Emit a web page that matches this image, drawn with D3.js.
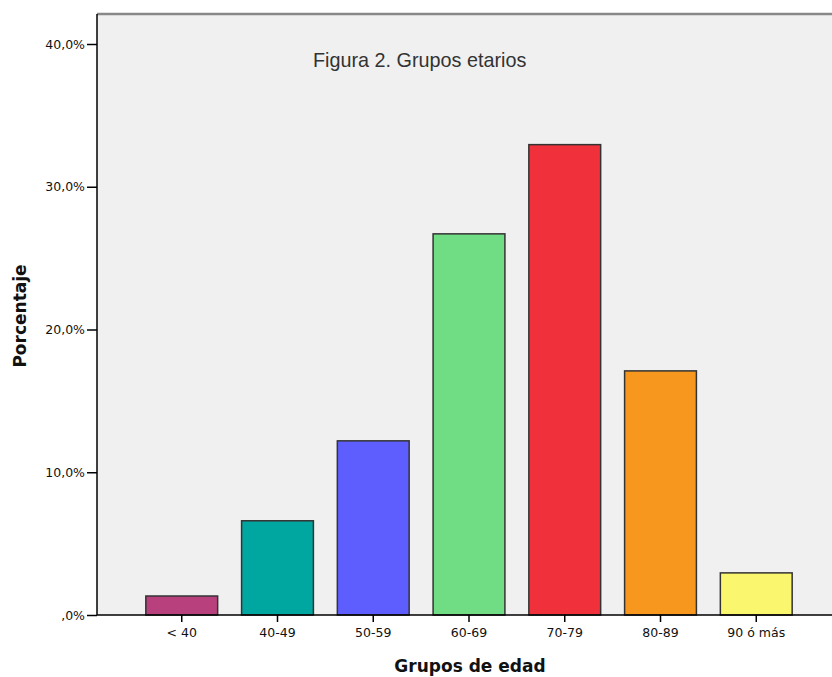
<!DOCTYPE html>
<html><head><meta charset="utf-8">
<script src="https://cdn.jsdelivr.net/npm/d3@7"></script>
<style>body{margin:0;background:#fff;}svg{display:block;}</style>
</head><body>
<svg id="c" width="832" height="677"></svg>
<script>
const categories = ["< 40", "40-49", "50-59", "60-69", "70-79", "80-89", "90 ó más"];
const values = [1.33, 6.6, 12.2, 26.7, 32.95, 17.1, 2.95];
const colors = ["#b8407d", "#00a6a0", "#5e5eff", "#70dc84", "#f0313b", "#f7971e", "#faf76f"];
const yTicks = [0, 10, 20, 30, 40];
const yTickLabels = [",0%", "10,0%", "20,0%", "30,0%", "40,0%"];
const title = "Figura 2. Grupos etarios";
const xTitle = "Grupos de edad";
const yTitle = "Porcentaje";

const svg = d3.select("#c");
const pL = 97, pR = 832, pT = 14, pB = 615;

const x = d3.scaleBand().domain(categories).range([pL, 841]).paddingInner(0.25).paddingOuter(0.51);
const y = d3.scaleLinear().domain([0, 40]).range([pB, 44]);

svg.append("rect").attr("x", pL).attr("y", pT).attr("width", pR - pL).attr("height", pB - pT).attr("fill", "#f0f0f0");
svg.append("line").attr("x1", pL).attr("x2", pR).attr("y1", pT).attr("y2", pT).attr("stroke", "#888").attr("stroke-width", 2.5);

svg.append("text").attr("x", 313).attr("y", 67).attr("font-family", "Liberation Sans, Arial, sans-serif").attr("font-size", 19.8).attr("fill", "#333").text(title);

svg.selectAll("rect.bar").data(values).join("rect").attr("class", "bar")
  .attr("x", (d, i) => x(categories[i])).attr("width", x.bandwidth())
  .attr("y", d => y(d)).attr("height", d => pB - y(d))
  .attr("fill", (d, i) => colors[i]).attr("stroke", "#333").attr("stroke-width", 1.5);

const yAxis = d3.axisLeft(y).tickValues(yTicks).tickFormat((d, i) => yTickLabels[i]).tickSize(10).tickPadding(2);
const gy = svg.append("g").attr("transform", `translate(${pL},0)`).call(yAxis);
gy.select(".domain").attr("stroke", "#000").attr("stroke-width", 1.5).attr("d", `M0,${pT}V${pB}`);
gy.selectAll(".tick line").attr("stroke", "#000").attr("stroke-width", 1.5);
gy.selectAll(".tick text").attr("font-family", "DejaVu Sans, sans-serif").style("font-size", "12.5px").attr("fill", "#111");

const xAxis = d3.axisBottom(x).tickSize(7).tickPadding(6);
const gx = svg.append("g").attr("transform", `translate(0,${pB})`).call(xAxis);
gx.select(".domain").attr("stroke", "#000").attr("stroke-width", 1.5).attr("d", `M${pL},0H${pR}`);
gx.selectAll(".tick line").attr("stroke", "#000").attr("stroke-width", 1.5);
gx.selectAll(".tick text").attr("font-family", "DejaVu Sans, sans-serif").style("font-size", "12.5px").attr("fill", "#111");

svg.append("text").attr("x", 470).attr("y", 672).attr("text-anchor", "middle")
  .attr("font-family", "DejaVu Sans, sans-serif").attr("font-weight", "bold").attr("font-size", 17).attr("fill", "#111").text(xTitle);
svg.append("text").attr("transform", "translate(26,316) rotate(-90)").attr("text-anchor", "middle")
  .attr("font-family", "DejaVu Sans, sans-serif").attr("font-weight", "bold").attr("font-size", 17).attr("fill", "#111").text(yTitle);
</script>
</body></html>
